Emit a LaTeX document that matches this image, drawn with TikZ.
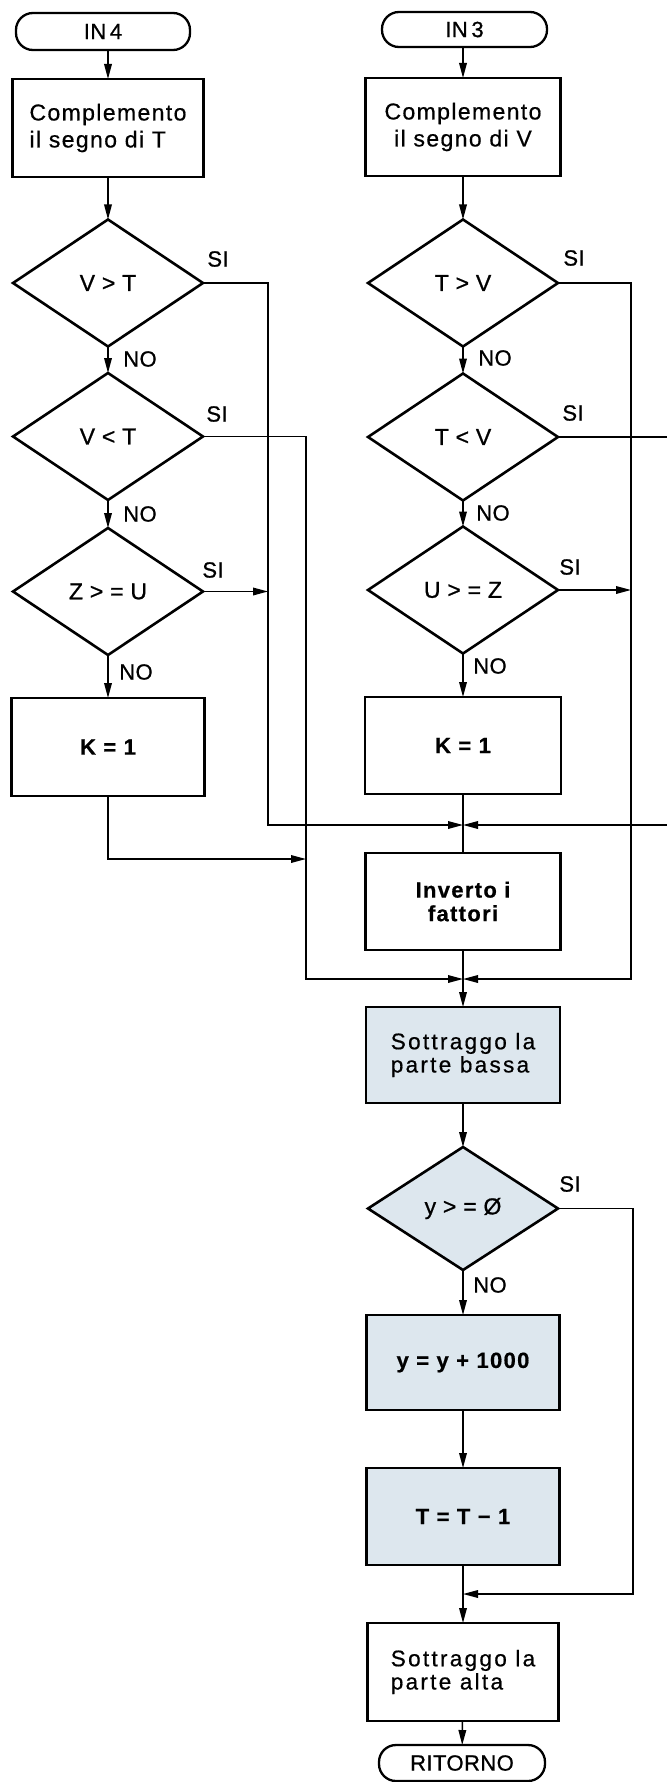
\documentclass[tikz,border=0pt]{standalone}
\usepackage{fontspec}
\setmainfont{Liberation Sans}
\newfontfamily\fA{Liberation Sans}[LetterSpace=6,FakeBold=0.6]
\newfontfamily\fB{Liberation Sans}[LetterSpace=10,FakeBold=0.6]
\newfontfamily\fC{Liberation Sans}[LetterSpace=2,FakeBold=0.8]
\usetikzlibrary{shapes.geometric,arrows.meta}
\definecolor{fillblue}{RGB}{221,231,238}
\begin{document}
\begin{tikzpicture}[x=0.5pt,y=-0.5pt,
  every node/.style={inner sep=0pt, outer sep=0pt},
  blk/.style={draw, line width=1.25pt, rectangle, align=center, fill=white},
  dec/.style={draw, line width=1.3pt, diamond, minimum width=95pt, minimum height=63.5pt, fill=white,
    font=\fC\fontsize{11.5pt}{12pt}\selectfont},
  term/.style={draw, line width=1.15pt, rectangle, rounded corners=8.5pt, fill=white,
    font=\fC\fontsize{11pt}{12pt}\selectfont},
  txt/.style={font=\fA\fontsize{11.5pt}{13.5pt}\selectfont},
  txtw/.style={font=\fB\fontsize{11.3pt}{11.6pt}\selectfont, align=left},
  txtb/.style={font=\fA\bfseries\fontsize{11pt}{11.8pt}\selectfont},
  lbl/.style={font=\fC\fontsize{11pt}{12pt}\selectfont},
  conn/.style={line width=0.75pt},
  arr/.style={conn, -{Triangle[length=7.5pt,width=3.8pt]}},
  shaded/.style={fill=fillblue},
]
\useasboundingbox (0,0) rectangle (667,1782);
\clip (0,0) rectangle (667,1782);
\fill[white] (0,0) rectangle (667,1782);

% left column
\node[term, minimum width=87pt, minimum height=18.5pt] (in4) at (103,31.5) {IN\,4};
\node[blk, txt, align=left, minimum width=95.5pt, minimum height=49pt] (c1) at (108,128) {Complemento\\il segno di T};
\node[dec] (d1) at (108,283) {V > T};
\node[dec] (d2) at (108,436.5) {V < T};
\node[dec] (d3) at (108,591.5) {Z > = U};
\node[blk, txtb, minimum width=96.5pt, minimum height=49pt] (k1) at (108,747) {K = 1};

% right column
\node[term, minimum width=82.5pt, minimum height=17.5pt] (in3) at (464.5,29.5) {IN\,3};
\node[blk, txt, minimum width=97.5pt, minimum height=49pt] (c2) at (463,127) {Complemento\\il segno di V};
\node[dec] (d4) at (463,283) {T > V};
\node[dec] (d5) at (463,437) {T < V};
\node[dec] (d6) at (463,590) {U > = Z};
\node[blk, txtb, minimum width=98pt, minimum height=48.5pt] (k2) at (463,745.5) {K = 1};
\node[blk, txtb, minimum width=97.5pt, minimum height=48.5pt] (inv) at (463,901.5) {Inverto i\\fattori};
\node[blk, txtw, shaded, minimum width=97pt, minimum height=48pt] (sb) at (463,1055) {Sottraggo la\\parte bassa};
\node[dec, shaded, minimum height=61.5pt] (d7) at (463,1208.5) {y > = Ø};
\node[blk, txtb, shaded, minimum width=96.5pt, minimum height=47.5pt] (yb) at (463,1362.5) {y = y + 1000};
\node[blk, txtb, shaded, minimum width=96.5pt, minimum height=48.5pt] (tb) at (463,1516.5) {T = T − 1};
\node[blk, txtw, minimum width=95.5pt, minimum height=49pt] (sa) at (463,1672) {Sottraggo la\\parte alta};
\node[term, minimum width=83pt, minimum height=18pt] (ret) at (462,1763) {RITORNO};

% junctions and corners
\coordinate (j1) at (463,825);
\coordinate (j2) at (463,979);
\coordinate (j3) at (463,1594);
\coordinate (xa) at (268,825);
\coordinate (xb) at (306,979);
\coordinate (xbk) at (306,859);
\coordinate (xc) at (631,979);
\coordinate (xd) at (669,825);
\coordinate (xe) at (633,1594);

% labels
\node[lbl] (si1) at (218,259) {SI};
\node[lbl] (si2) at (217,414) {SI};
\node[lbl] (si3) at (213,570) {SI};
\node[lbl] (si4) at (574,258) {SI};
\node[lbl] (si5) at (573,413) {SI};
\node[lbl] (si6) at (570,567) {SI};
\node[lbl] (si7) at (570,1184) {SI};
\node[lbl] (no1) at (140,359) {NO};
\node[lbl] (no2) at (140,514) {NO};
\node[lbl] (no3) at (136,672) {NO};
\node[lbl] (no4) at (495,358) {NO};
\node[lbl] (no5) at (493,513) {NO};
\node[lbl] (no6) at (490,666) {NO};
\node[lbl] (no7) at (490,1285) {NO};

% main flow, left
\draw[arr] (c1.north |- in4.south) -- (c1.north);
\draw[arr] (c1) -- (d1);
\draw[arr] (d1) -- (d2);
\draw[arr] (d2) -- (d3);
\draw[arr] (d3) -- (k1);
% main flow, right
\draw[arr] (c2.north |- in3.south) -- (c2.north);
\draw[arr] (c2) -- (d4);
\draw[arr] (d4) -- (d5);
\draw[arr] (d5) -- (d6);
\draw[arr] (d6) -- (k2);
\draw[conn] (k2) -- (inv);
\draw[arr] (inv) -- (sb);
\draw[arr] (sb) -- (d7);
\draw[arr] (d7) -- (yb);
\draw[arr] (yb) -- (tb);
\draw[arr] (tb) -- (sa);
\draw[arr] (sa) -- (ret);

% SI branches
\draw[arr] (d1.east) -| (xa) -- (j1);
\draw[arr] (d3.east) -- (d3.east -| xa);
\draw[arr] (d2.east) -| (xb) -- (j2);
\draw[arr] (k1.south) |- (xbk);
\draw[arr] (d4.east) -| (xc) -- (j2);
\draw[arr] (d6.east) -- (d6.east -| xc);
\draw[arr] (d5.east) -| (xd) -- (j1);
\draw[arr] (d7.east) -| (xe) -- (j3);
\end{tikzpicture}
\end{document}
